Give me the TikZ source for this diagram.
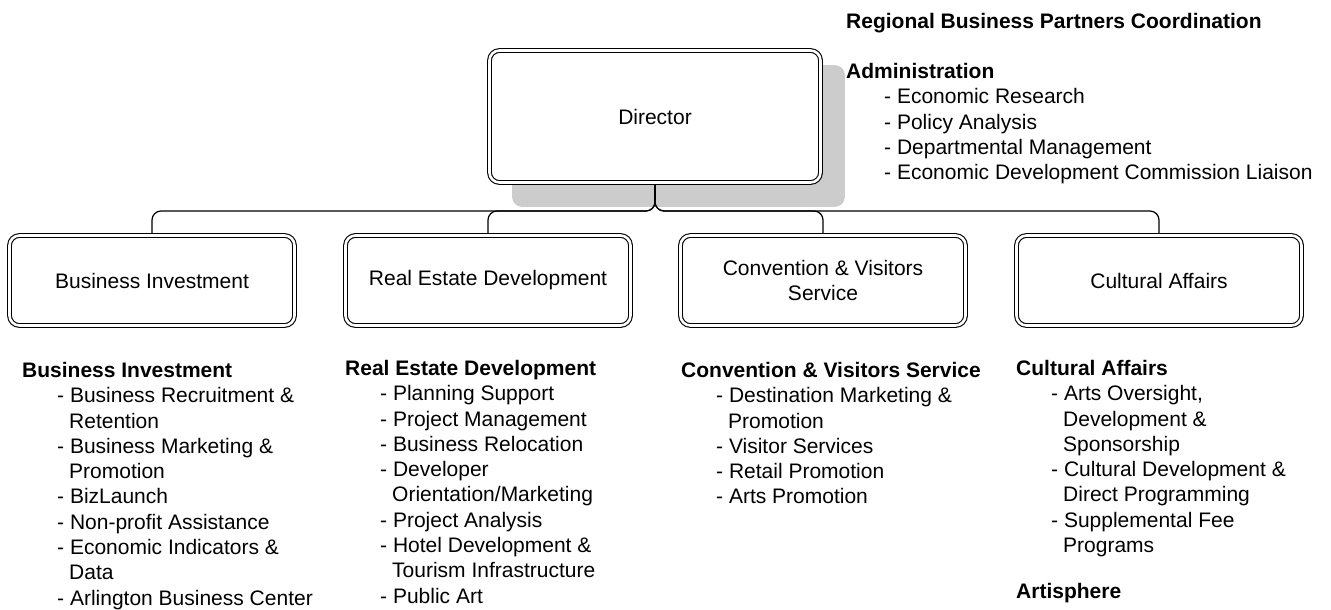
\documentclass[tikz,border=0pt]{standalone}
\usepackage{fontspec}
\setmainfont{Liberation Sans}
\usetikzlibrary{calc,backgrounds}

% list entries: dash item and its wrapped continuation
\newcommand{\itm}[2][35pt]{\hspace*{#1}- #2}
\newcommand{\cnt}[2][47pt]{\hspace*{#1}#2}

\begin{document}
\begin{tikzpicture}[x=1pt, y=-1pt,
    unitbox/.style={draw, fill=white, rounded corners=10pt, line width=1.1pt,
      double, double distance=2.6pt, outer sep=2.4pt, align=center,
      minimum width=285pt, minimum height=90pt,
      font=\fontsize{21}{25.3}\selectfont},
    listtext/.style={anchor=north west, inner sep=0pt, align=left,
      font=\fontsize{21}{25.3}\selectfont},
    conn/.style={line width=1.2pt, rounded corners=9pt}]
  \useasboundingbox (0,0) rectangle (1331,610);

  % director and the four units
  \node[unitbox, minimum width=331pt, minimum height=132pt] (dir) at (655,116.5) {Director};
  \node[unitbox] (bi) at (152,280.5) {Business Investment};
  \node[unitbox] (re) at (488,280.5) {Real Estate Development};
  \node[unitbox] (cv) at (823,280.5) {Convention \& Visitors\\Service};
  \node[unitbox] (ca) at (1159,280.5) {Cultural Affairs};

  \begin{scope}[on background layer]
    \fill[gray!40, rounded corners=10pt]
      ([shift={(25pt,-17pt)}]dir.north west) rectangle ([shift={(22pt,-22pt)}]dir.south east);
  \end{scope}

  % bus line from director down to the units
  \coordinate (bus) at (655,211);
  \foreach \u in {bi,re,cv,ca}
    \draw[conn] (dir.south) -- (dir.south |- bus) -- (bus -| \u.north) -- (\u.north);

  % side notes
  \node[listtext] (rbp) at (846,13) {\textbf{Regional Business Partners Coordination}};
  \node[listtext] (adm) at (846,63) {\textbf{Administration}\\
    \itm[38pt]{Economic Research}\\
    \itm[38pt]{Policy Analysis}\\
    \itm[38pt]{Departmental Management}\\
    \itm[38pt]{Economic Development Commission Liaison}};

  \node[listtext] (bilist) at (22,362) {\textbf{Business Investment}\\
    \itm{Business Recruitment \&}\\
    \cnt{Retention}\\
    \itm{Business Marketing \&}\\
    \cnt{Promotion}\\
    \itm{BizLaunch}\\
    \itm{Non-profit Assistance}\\
    \itm{Economic Indicators \&}\\
    \cnt{Data}\\
    \itm{Arlington Business Center}};

  \node[listtext] (relist) at (345,360) {\textbf{Real Estate Development}\\
    \itm{Planning Support}\\
    \itm{Project Management}\\
    \itm{Business Relocation}\\
    \itm{Developer}\\
    \cnt{Orientation/Marketing}\\
    \itm{Project Analysis}\\
    \itm{Hotel Development \&}\\
    \cnt{Tourism Infrastructure}\\
    \itm{Public Art}};

  \node[listtext] (cvlist) at (681,362) {\textbf{Convention \& Visitors Service}\\
    \itm{Destination Marketing \&}\\
    \cnt{Promotion}\\
    \itm{Visitor Services}\\
    \itm{Retail Promotion}\\
    \itm{Arts Promotion}};

  \node[listtext] (calist) at (1016,360) {\textbf{Cultural Affairs}\\
    \itm{Arts Oversight,}\\
    \cnt{Development \&}\\
    \cnt{Sponsorship}\\
    \itm{Cultural Development \&}\\
    \cnt{Direct Programming}\\
    \itm{Supplemental Fee}\\
    \cnt{Programs}};
  \node[listtext] (art) at (1016,583) {\textbf{Artisphere}};
\end{tikzpicture}
\end{document}
